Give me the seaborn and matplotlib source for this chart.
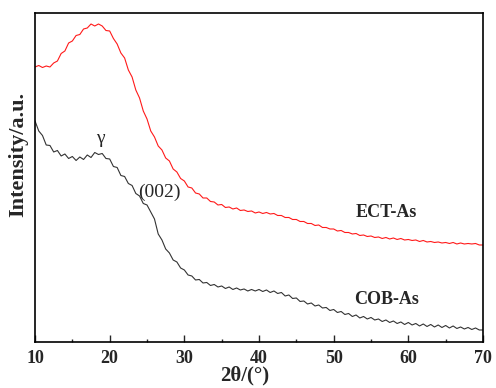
"""XRD patterns of ECT-As and COB-As."""

import numpy as np
import pandas as pd
import matplotlib
matplotlib.use("Agg")
import matplotlib.pyplot as plt
from matplotlib.ticker import MultipleLocator
import seaborn as sns

# 2theta sampling grid (deg), 0.5 deg step
two_theta = np.arange(10, 70.5, 0.5)

# intensities (arbitrary units)
ect_as = [
    275, 276.5, 274.5, 276, 275, 279, 281, 288.5, 291, 299,
    301, 306.5, 307.5, 313, 314, 318, 316, 318, 316, 311.5,
    311, 303.5, 298, 289, 284, 272, 265, 252, 244, 231,
    223, 211, 205, 196, 192, 184, 181, 173, 170, 163.5,
    161, 155, 154, 149, 148, 144, 144, 140.5, 140, 137,
    137.5, 134.5, 135, 133, 134, 131.5, 132, 130.5, 131, 129,
    130, 128.5, 129.5, 128, 128.5, 126.5, 126.5, 124.5, 124.5, 122.5,
    122.5, 120.5, 120.5, 118.5, 118.5, 116.5, 117, 114.5, 114.5, 113,
    113, 111, 111.5, 109.5, 109.5, 108, 108.5, 106.5, 107, 105.5,
    106, 104.5, 105, 103.5, 104.5, 103, 104, 102.5, 103.5, 102,
    102.5, 101.5, 102, 100.5, 101.5, 100, 100.5, 99.5, 100, 99,
    99.5, 98.5, 99.5, 98, 99, 98, 98.5, 98, 98.5, 97,
    97,
]
cob_as = [
    221, 211, 206.5, 197, 196.5, 190, 191.5, 186, 188, 183.5,
    185.5, 181.5, 185, 182.5, 187, 184.5, 189.5, 187.5, 188.5, 183.5,
    183, 175.5, 174.5, 166.5, 165.5, 158.5, 156.5, 148.5, 146, 138.5,
    137, 130, 123, 108, 102, 93, 89, 82, 80, 74,
    72, 67, 66, 62, 62.5, 59, 59.5, 56.5, 57.5, 55,
    56, 53.5, 55, 52.5, 54, 52, 53, 51, 52.5, 51,
    52.5, 50.5, 52, 49.5, 51, 48.5, 49.5, 46, 47, 43.5,
    44, 40.5, 41, 38, 39, 36, 37, 34, 34.5, 31.5,
    32.5, 29.5, 30.5, 27.5, 28.5, 25.5, 27, 24, 25.5, 23,
    24.5, 22, 23, 20.5, 22, 19.5, 21, 18.5, 20, 17.5,
    19.5, 17, 18.5, 16, 18, 15.5, 17.5, 15, 17, 14.5,
    16.5, 14, 16, 13.5, 15, 13, 14.5, 12.5, 14, 12,
    12,
]
samples = ["ECT-As", "COB-As"]
colors = ["#ff1a1a", "#333333"]

df = pd.DataFrame({
    "two_theta": np.concatenate([two_theta, two_theta]),
    "intensity": ect_as + cob_as,
    "sample": [samples[0]] * len(ect_as) + [samples[1]] * len(cob_as),
})

sns.set_theme(style="ticks")
plt.rcParams["font.family"] = ["Liberation Serif", "DejaVu Serif"]

fig = plt.figure(figsize=(4.96, 3.88), dpi=100)
ax = fig.add_axes([0.0706, 0.1186, 0.9032, 0.8479])

sns.lineplot(data=df, x="two_theta", y="intensity", hue="sample",
             palette=dict(zip(samples, colors)), linewidth=0.8,
             legend=False, ax=ax)

ax.set_xlim(10, 70)
ax.set_ylim(0, 329)
ax.xaxis.set_major_locator(MultipleLocator(10))
ax.xaxis.set_minor_locator(MultipleLocator(5))
ax.tick_params(axis="x", which="major", direction="in", length=5,
               width=1, pad=6, labelsize=13)
ax.tick_params(axis="x", which="minor", direction="in", length=2.5, width=1)
ax.tick_params(axis="y", left=False, labelleft=False)
for lbl in ax.get_xticklabels():
    lbl.set_fontweight("bold")
for sp in ax.spines.values():
    sp.set_linewidth(1.2)
    sp.set_color("black")

ax.set_xlabel("2θ/(°)", fontsize=15, fontweight="bold")
ax.set_ylabel("Intensity/a.u.", fontsize=16, fontweight="bold")
ax.xaxis.set_label_coords(0.468, -0.072)
ax.yaxis.set_label_coords(-0.016, 0.571)

# peak labels and sample names
ax.text(18.7, 203, "γ", fontsize=14, ha="center", va="center")
ax.text(26.7, 150, "(002)", fontsize=14, ha="center", va="center")
ax.text(57.1, 129, "ECT-As", fontsize=13, fontweight="bold",
        ha="center", va="center")
ax.text(57.1, 42, "COB-As", fontsize=13, fontweight="bold",
        ha="center", va="center")

fig.savefig("out.png", dpi=100)
plt.close(fig)
